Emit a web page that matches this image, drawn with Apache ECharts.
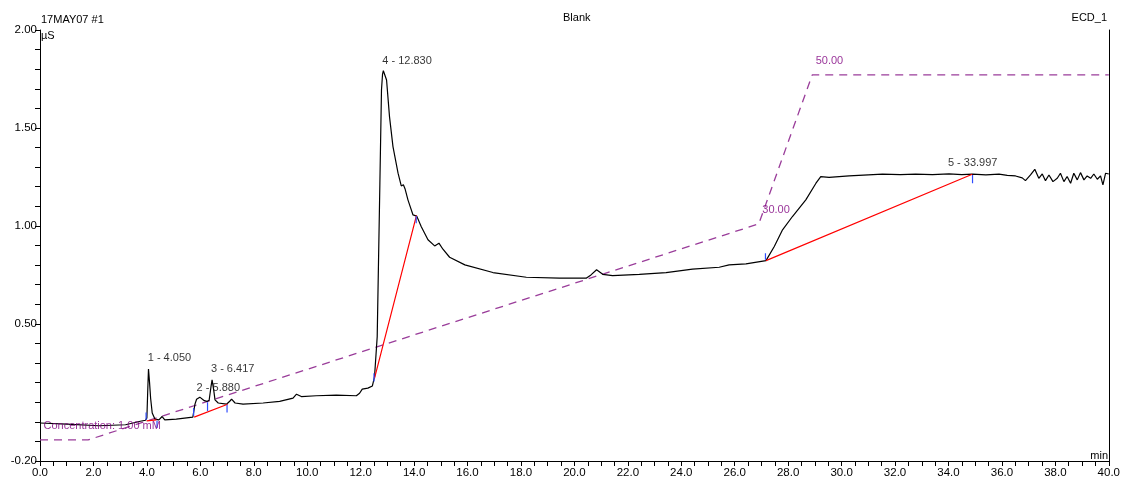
<!DOCTYPE html>
<html>
<head>
<meta charset="utf-8">
<script src="https://cdn.jsdelivr.net/npm/echarts@6/dist/echarts.min.js"></script>
<style>html,body{margin:0;padding:0;background:#fff}#c{width:1123px;height:484px}</style>
</head>
<body>
<div id="c"></div>
<script>
// ---- data ----
var traceTime = [0,1.0,2.2,3.2,3.6,3.75,3.95,4.0,4.03,4.06,4.1,4.14,4.2,4.3,4.45,4.57,4.67,5.1,5.72,5.8,5.86,5.98,6.15,6.25,6.33,6.4,6.44,6.5,6.55,6.67,6.98,7.1,7.17,7.3,7.6,8.35,8.97,9.47,9.6,9.66,9.78,10.34,11.09,11.84,11.96,12.06,12.27,12.44,12.52,12.62,12.72,12.78,12.82,12.85,12.9,12.97,13.08,13.21,13.4,13.52,13.6,13.66,13.77,13.96,14.1,14.27,14.52,14.77,14.93,15.08,15.33,15.9,16.95,18.2,19.44,20.44,20.62,20.83,21.06,21.43,22.43,23.43,24.42,25.42,25.79,26.42,27.17,27.48,27.79,28.16,28.66,29.04,29.22,29.53,30.28,31.0,31.53,32.2,32.77,33.4,34.02,34.5,34.9,35.4,35.89,36.2,36.51,36.76,36.88,37.07,37.23,37.38,37.51,37.63,37.76,37.91,38.07,38.19,38.32,38.44,38.57,38.69,38.82,38.94,39.07,39.19,39.32,39.44,39.57,39.69,39.78,39.88,40.0];
var traceValue = [-0.006,-0.012,-0.02,-0.015,-0.002,0.003,0.008,0.02,0.15,0.27,0.2,0.12,0.045,0.014,0.01,0.027,0.01,0.014,0.024,0.09,0.115,0.126,0.108,0.104,0.11,0.18,0.214,0.163,0.112,0.096,0.09,0.105,0.116,0.096,0.09,0.096,0.104,0.121,0.141,0.141,0.129,0.133,0.136,0.133,0.146,0.167,0.172,0.183,0.231,0.435,1.218,1.694,1.775,1.792,1.785,1.745,1.558,1.405,1.269,1.204,1.21,1.19,1.133,1.056,1.05,0.996,0.929,0.898,0.912,0.881,0.84,0.801,0.762,0.738,0.733,0.733,0.75,0.776,0.753,0.746,0.753,0.762,0.779,0.789,0.801,0.806,0.823,0.895,0.98,1.048,1.133,1.218,1.252,1.248,1.255,1.26,1.264,1.262,1.264,1.262,1.266,1.262,1.264,1.26,1.264,1.258,1.255,1.245,1.231,1.26,1.289,1.243,1.265,1.231,1.26,1.226,1.243,1.269,1.226,1.252,1.218,1.269,1.235,1.272,1.235,1.255,1.243,1.265,1.238,1.255,1.209,1.269,1.265];

// gradient (concentration, mM)
var gradTime = [0, 1.8, 26.9, 28.9, 40];
var gradConc = [1, 1, 30, 50, 50];
var gradLabelTime = [0, 26.9, 28.9];
var gradLabelConc = [1, 30, 50];
var gradLabelText = ['Concentration: 1.00 mM', '30.00', '50.00'];

// integration baselines (start/end)
var baseStartTime = [3.99, 5.77, 12.52, 27.17];
var baseStartValue = [0.005, 0.024, 0.223, 0.823];
var baseEndTime = [4.36, 7.02, 14.09, 34.89];
var baseEndValue = [0.01, 0.09, 1.054, 1.264];

// peak delimiter marks
var markTime = [3.97, 4.38, 5.75, 6.27, 7.0, 12.5, 14.08, 27.15, 34.9];
var markTop = [0.047, 0.005, 0.07, 0.10, 0.087, 0.248, 1.051, 0.861, 1.26];
var markBottom = [0.01, -0.032, 0.031, 0.055, 0.047, 0.206, 1.014, 0.827, 1.218];

// peaks
var peakTime = [4.05, 5.88, 6.417, 12.83, 33.997];
var peakHeight = [0.27, 0.118, 0.214, 1.79, 1.266];
var peakName = ['1 - 4.050', '2 - 5.880', '3 - 6.417', '4 - 12.830', '5 - 33.997'];

// ---- build ----
var FONT = "'Liberation Sans Narrow','Liberation Sans',Arial,sans-serif";
function zip(a, b) { return a.map(function (x, i) { return [x, b[i]]; }); }
var baseData = [];
baseStartTime.forEach(function (t, i) {
  baseData.push([t, baseStartValue[i]], [baseEndTime[i], baseEndValue[i]], [baseEndTime[i], '-']);
});
var markData = [];
markTime.forEach(function (t, i) {
  markData.push([t, markTop[i]], [t, markBottom[i]], [t, '-']);
});
var peakData = peakTime.map(function (t, i) { return { value: [t, peakHeight[i]], name: peakName[i] }; });
var gradLabelData = gradLabelTime.map(function (t, i) { return { value: [t, gradLabelConc[i]], name: gradLabelText[i] }; });

var chart = echarts.init(document.getElementById('c'), null, { renderer: 'canvas' });
chart.setOption({
  animation: false,
  backgroundColor: '#ffffff',
  textStyle: { fontFamily: FONT },
  grid: { left: 40, right: 14, top: 30, bottom: 23, containLabel: false },
  xAxis: {
    type: 'value', min: 0, max: 40, interval: 2,
    axisLine: { onZero: false, lineStyle: { color: '#000', width: 1 } },
    axisTick: { length: 5, lineStyle: { color: '#000' } },
    minorTick: { show: true, splitNumber: 4, length: 5, lineStyle: { color: '#000' } },
    splitLine: { show: false }, minorSplitLine: { show: false },
    axisLabel: { color: '#000', fontSize: 11.5, fontFamily: FONT, margin: 6,
      formatter: function (v) { return v.toFixed(1); } }
  },
  yAxis: [{
    type: 'value', min: -0.2, max: 2.0, interval: 0.1,
    axisLine: { show: true, onZero: false, lineStyle: { color: '#000', width: 1 } },
    axisTick: { show: true, length: 5, lineStyle: { color: '#000' } },
    splitLine: { show: false },
    axisLabel: { color: '#000', fontSize: 11.5, fontFamily: FONT, margin: 3, showMinLabel: true, showMaxLabel: true,
      formatter: function (v) {
        var r = Math.round(v * 10);
        if (r === -2) return '-0.20';
        if (r > 0 && r % 5 === 0) return (r / 10).toFixed(2);
        return '';
      } }
  }, {
    type: 'value', min: -1.83, max: 56.03, position: 'right',
    axisLine: { show: true, onZero: false, lineStyle: { color: '#000', width: 1 } },
    axisTick: { show: false }, axisLabel: { show: false }, splitLine: { show: false }
  }],
  series: [
    { type: 'line', yAxisIndex: 1, data: zip(gradTime, gradConc), showSymbol: false, silent: true,
      lineStyle: { color: '#9a3d9a', width: 1.3, type: [8, 6] }, z: 1 },
    { type: 'line', data: zip(traceTime, traceValue), showSymbol: false, silent: true,
      lineStyle: { color: '#000', width: 1.2 }, z: 3 },
    { type: 'line', data: baseData, showSymbol: false, silent: true, connectNulls: false,
      lineStyle: { color: '#ff0000', width: 1.2 }, z: 4 },
    { type: 'line', data: markData, showSymbol: false, silent: true, connectNulls: false,
      lineStyle: { color: '#2f4cff', width: 1.2 }, z: 5 },
    { type: 'scatter', data: peakData, symbolSize: 1, itemStyle: { color: 'rgba(0,0,0,0)' }, silent: true, z: 6,
      label: { show: true, position: [0, 0], align: 'left', verticalAlign: 'middle', offset: [0, -10],
        color: '#000', fontSize: 11, fontFamily: FONT, formatter: function (p) { return p.name; } } },
    { type: 'scatter', yAxisIndex: 1, data: gradLabelData, symbolSize: 1, itemStyle: { color: 'rgba(0,0,0,0)' }, silent: true, z: 6,
      label: { show: true, position: [0, 0], align: 'left', verticalAlign: 'middle', offset: [4, -13],
        color: '#800080', fontSize: 11, fontFamily: FONT, formatter: function (p) { return p.name; } } }
  ],
  graphic: [
    { type: 'text', left: 41, top: 14, style: { text: '17MAY07 #1', fill: '#000', font: '11px ' + FONT } },
    { type: 'text', left: 41, top: 30, style: { text: 'µS', fill: '#000', font: '11px ' + FONT } },
    { type: 'text', left: 563, top: 12, style: { text: 'Blank', fill: '#000', font: '11px ' + FONT } },
    { type: 'text', right: 16, top: 12, style: { text: 'ECD_1', fill: '#000', font: '11px ' + FONT } },
    { type: 'text', right: 15, top: 450, style: { text: 'min', fill: '#000', font: '11px ' + FONT } }
  ]
});
</script>
</body>
</html>
